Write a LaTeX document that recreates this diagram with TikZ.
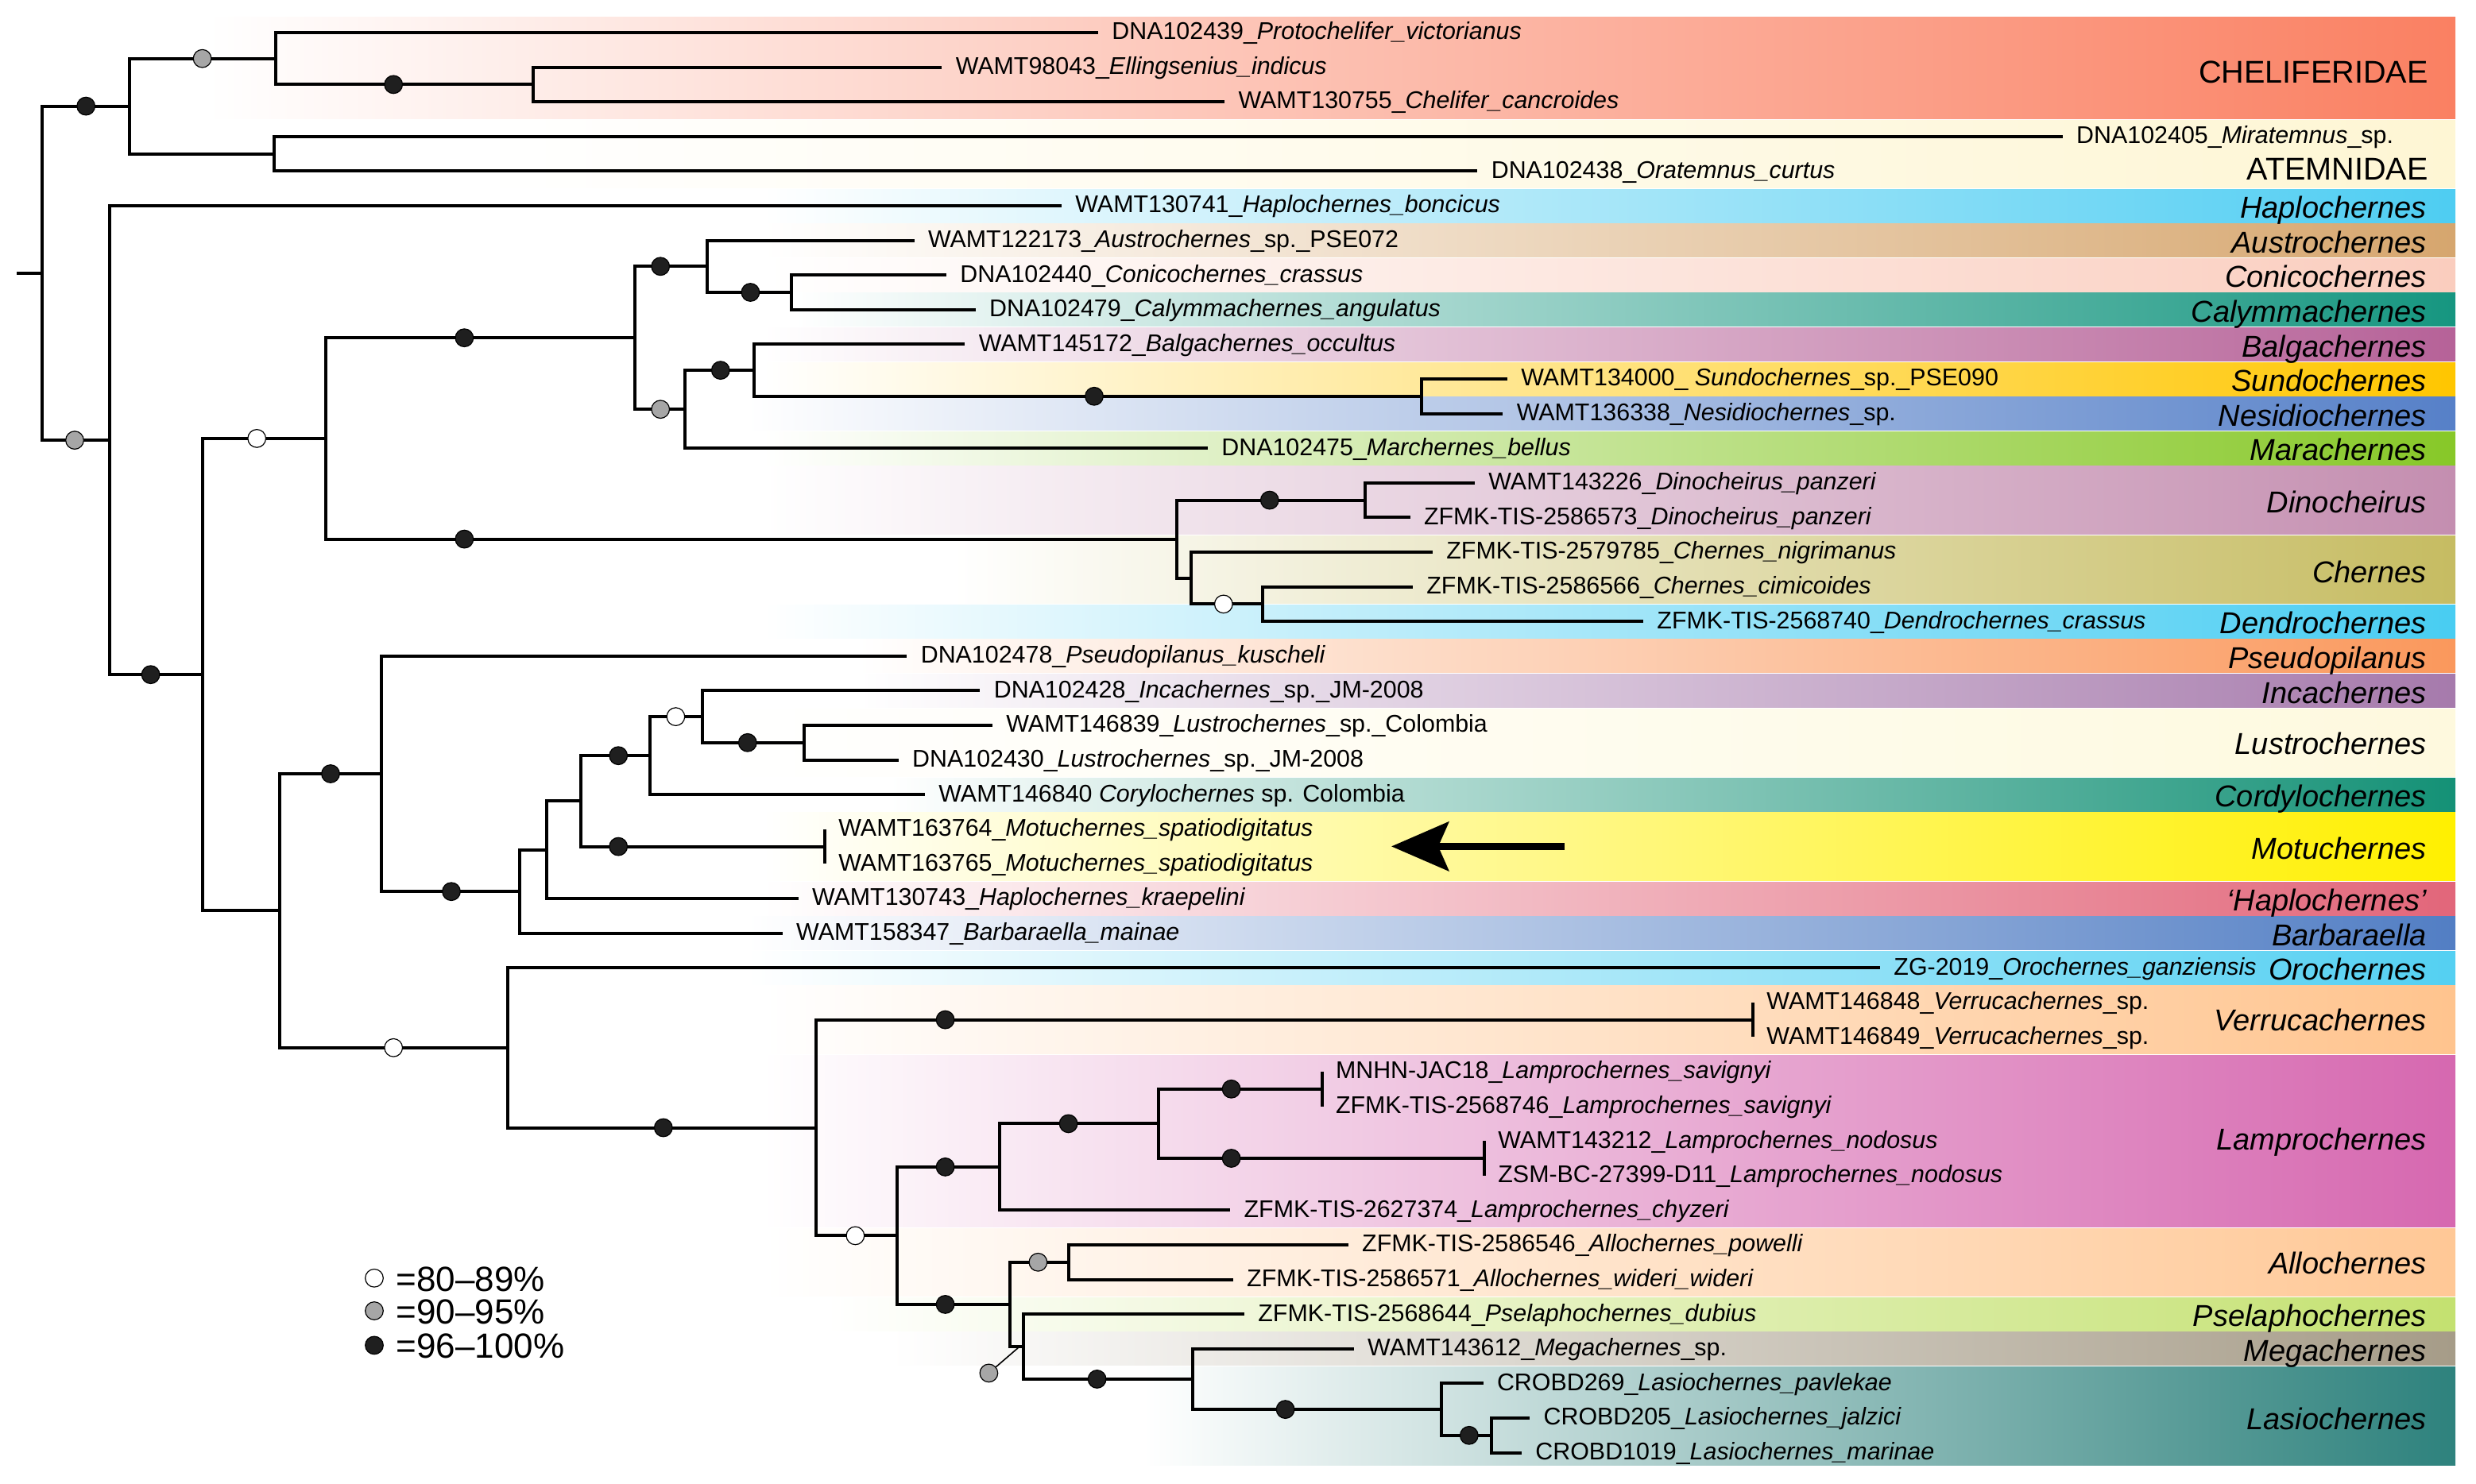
\documentclass[tikz,border=0pt]{standalone}
\usepackage{fontspec}
\setmainfont{Liberation Sans}
\usetikzlibrary{shapes.geometric}
\definecolor{cChel}{RGB}{250,128,98}
\definecolor{cAtem}{RGB}{254,246,212}
\definecolor{cHapl}{RGB}{78,205,242}
\definecolor{cAust}{RGB}{214,166,110}
\definecolor{cConi}{RGB}{250,205,190}
\definecolor{cCaly}{RGB}{22,150,128}
\definecolor{cBalg}{RGB}{182,98,152}
\definecolor{cSund}{RGB}{255,198,0}
\definecolor{cNesi}{RGB}{86,128,200}
\definecolor{cMara}{RGB}{135,200,40}
\definecolor{cDino}{RGB}{196,142,176}
\definecolor{cCher}{RGB}{198,188,98}
\definecolor{cDend}{RGB}{72,205,242}
\definecolor{cPseu}{RGB}{250,152,92}
\definecolor{cInca}{RGB}{166,122,172}
\definecolor{cLust}{RGB}{254,249,222}
\definecolor{cCord}{RGB}{20,145,118}
\definecolor{cMotu}{RGB}{255,240,0}
\definecolor{cHapb}{RGB}{226,102,122}
\definecolor{cBarb}{RGB}{82,126,196}
\definecolor{cOroc}{RGB}{84,208,242}
\definecolor{cVerr}{RGB}{255,196,142}
\definecolor{cLamp}{RGB}{214,104,176}
\definecolor{cAllo}{RGB}{255,200,150}
\definecolor{cPsel}{RGB}{196,225,112}
\definecolor{cMega}{RGB}{166,156,136}
\definecolor{cLasi}{RGB}{46,130,125}
\newcommand\gband[4]{\shade[left color=white,right color=#4] (#3,#1) rectangle (1545,#2);}
\begin{document}
\begin{tikzpicture}[x=1pt,y=-1pt,
 br/.style={line width=2pt},
 leaf/.style={anchor=west,inner xsep=8.5pt,inner ysep=0pt,text height=10.9pt,text depth=2.1pt,font=\fontsize{15.2}{18}\selectfont},
 grp/.style={anchor=east,inner sep=0pt,text height=13.6pt,text depth=0pt,font=\fontsize{19}{22}\selectfont\itshape},
 fam/.style={anchor=east,inner sep=0pt,text height=14.2pt,text depth=0pt,font=\fontsize{19.8}{22}\selectfont},
 dotbase/.style={circle,minimum size=11.3pt,inner sep=0pt,draw=black,line width=0.6pt},
 bdot/.style={dotbase,fill=black!88},
 gdot/.style={dotbase,fill=black!35},
 wdot/.style={dotbase,fill=white},
 legtxt/.style={anchor=west,inner sep=0pt,text height=15.8pt,text depth=0pt,font=\fontsize{22}{24}\selectfont},
 leader/.style={line width=0.8pt},
 shaft/.style={line width=4.9pt}]
\useasboundingbox (0,0) rectangle (1558,934);
% ---------------- bands
\gband{10.6}{74.8}{130}{cChel}
\gband{75.6}{118.2}{300}{cAtem}
\gband{119.0}{140.0}{480}{cHapl}
\gband{140.8}{161.8}{480}{cAust}
\gband{162.6}{183.6}{480}{cConi}
\gband{184.4}{205.4}{500}{cCaly}
\gband{206.2}{227.2}{480}{cBalg}
\gband{228.0}{249.0}{480}{cSund}
\gband{249.8}{270.8}{470}{cNesi}
\gband{271.6}{292.6}{480}{cMara}
\gband{293.4}{336.2}{480}{cDino}
\gband{337.0}{379.8}{600}{cCher}
\gband{380.6}{401.6}{480}{cDend}
\gband{402.4}{423.4}{540}{cPseu}
\gband{424.2}{445.2}{540}{cInca}
\gband{446.0}{488.8}{450}{cLust}
\gband{489.6}{510.6}{560}{cCord}
\gband{511.4}{554.2}{480}{cMotu}
\gband{555.0}{576.0}{480}{cHapb}
\gband{576.8}{597.8}{470}{cBarb}
\gband{598.6}{619.6}{470}{cOroc}
\gband{620.4}{663.2}{480}{cVerr}
\gband{664.0}{772.2}{480}{cLamp}
\gband{773.0}{815.8}{480}{cAllo}
\gband{816.6}{837.6}{520}{cPsel}
\gband{838.4}{859.4}{560}{cMega}
\gband{860.2}{922.0}{720}{cLasi}
% ---------------- leaf labels
\node[leaf] (t1) at (691,20.5) {DNA102439\_\textit{Protochelifer\_victorianus}};
\node[leaf] (t2) at (592.7,42.3) {WAMT98043\_\textit{Ellingsenius\_indicus}};
\node[leaf] (t3) at (770.6,64.1) {WAMT130755\_\textit{Chelifer\_cancroides}};
\node[leaf] (t4) at (1297.9,85.9) {DNA102405\_\textit{Miratemnus}\_sp.};
\node[leaf] (t5) at (929.7,107.7) {DNA102438\_\textit{Oratemnus\_curtus}};
\node[leaf] (t6) at (668,129.5) {WAMT130741\_\textit{Haplochernes\_boncicus}};
\node[leaf] (t7) at (575.3,151.3) {WAMT122173\_\textit{Austrochernes}\_sp.\_PSE072};
\node[leaf] (t8) at (595.5,173.1) {DNA102440\_\textit{Conicochernes\_crassus}};
\node[leaf] (t9) at (613.9,194.9) {DNA102479\_\textit{Calymmachernes\_angulatus}};
\node[leaf] (t10) at (607.2,216.7) {WAMT145172\_\textit{Balgachernes\_occultus}};
\node[leaf] (t11) at (948.5,238.5) {WAMT134000\_ \textit{Sundochernes}\_sp.\_PSE090};
\node[leaf] (t12) at (945.7,260.3) {WAMT136338\_\textit{Nesidiochernes}\_sp.};
\node[leaf] (t13) at (760,282.1) {DNA102475\_\textit{Marchernes\_bellus}};
\node[leaf] (t14) at (928,303.9) {WAMT143226\_\textit{Dinocheirus\_panzeri}};
\node[leaf] (t15) at (887.3,325.7) {ZFMK-TIS-2586573\_\textit{Dinocheirus\_panzeri}};
\node[leaf] (t16) at (901.5,347.5) {ZFMK-TIS-2579785\_\textit{Chernes\_nigrimanus}};
\node[leaf] (t17) at (889,369.3) {ZFMK-TIS-2586566\_\textit{Chernes\_cimicoides}};
\node[leaf] (t18) at (1034,391.1) {ZFMK-TIS-2568740\_\textit{Dendrochernes\_crassus}};
\node[leaf] (t19) at (570.7,412.9) {DNA102478\_\textit{Pseudopilanus\_kuscheli}};
\node[leaf] (t20) at (616.7,434.7) {DNA102428\_\textit{Incachernes}\_sp.\_JM-2008};
\node[leaf] (t21) at (624.5,456.5) {WAMT146839\_\textit{Lustrochernes}\_sp.\_Colombia};
\node[leaf] (t22) at (565.4,478.3) {DNA102430\_\textit{Lustrochernes}\_sp.\_JM-2008};
\node[leaf] (t23) at (582,500.1) {WAMT146840 \textit{Corylochernes} sp. Colombia};
\node[leaf] (t24) at (519,521.9) {WAMT163764\_\textit{Motuchernes\_spatiodigitatus}};
\node[leaf] (t25) at (519,543.7) {WAMT163765\_\textit{Motuchernes\_spatiodigitatus}};
\node[leaf] (t26) at (502.3,565.5) {WAMT130743\_\textit{Haplochernes\_kraepelini}};
\node[leaf] (t27) at (492.4,587.3) {WAMT158347\_\textit{Barbaraella\_mainae}};
\node[leaf] (t28) at (1183,609.1) {ZG-2019\_\textit{Orochernes\_ganziensis}};
\node[leaf] (t29) at (1103,630.9) {WAMT146848\_\textit{Verrucachernes}\_sp.};
\node[leaf] (t30) at (1103,652.7) {WAMT146849\_\textit{Verrucachernes}\_sp.};
\node[leaf] (t31) at (831.8,674.5) {MNHN-JAC18\_\textit{Lamprochernes\_savignyi}};
\node[leaf] (t32) at (831.8,696.3) {ZFMK-TIS-2568746\_\textit{Lamprochernes\_savignyi}};
\node[leaf] (t33) at (934,718.1) {WAMT143212\_\textit{Lamprochernes\_nodosus}};
\node[leaf] (t34) at (934,739.9) {ZSM-BC-27399-D11\_\textit{Lamprochernes\_nodosus}};
\node[leaf] (t35) at (774.1,761.7) {ZFMK-TIS-2627374\_\textit{Lamprochernes\_chyzeri}};
\node[leaf] (t36) at (848.4,783.5) {ZFMK-TIS-2586546\_\textit{Allochernes\_powelli}};
\node[leaf] (t37) at (775.9,805.3) {ZFMK-TIS-2586571\_\textit{Allochernes\_wideri\_wideri}};
\node[leaf] (t38) at (783,827.1) {ZFMK-TIS-2568644\_\textit{Pselaphochernes\_dubius}};
\node[leaf] (t39) at (851.9,848.9) {WAMT143612\_\textit{Megachernes}\_sp.};
\node[leaf] (t40) at (933.3,870.7) {CROBD269\_\textit{Lasiochernes\_pavlekae}};
\node[leaf] (t41) at (962.6,892.5) {CROBD205\_\textit{Lasiochernes\_jalzici}};
\node[leaf] (t42) at (957.5,914.3) {CROBD1019\_\textit{Lasiochernes\_marinae}};
% ---------------- group labels
\node[fam] (g1) at (1528,45) {CHELIFERIDAE};
\node[fam] (g2) at (1528,106) {ATEMNIDAE};
\node[grp] (g3) at (1527,130.5) {Haplochernes};
\node[grp] (g4) at (1527,152.3) {Austrochernes};
\node[grp] (g5) at (1527,174.1) {Conicochernes};
\node[grp] (g6) at (1527,195.9) {Calymmachernes};
\node[grp] (g7) at (1527,217.7) {Balgachernes};
\node[grp] (g8) at (1527,239.5) {Sundochernes};
\node[grp] (g9) at (1527,261.3) {Nesidiochernes};
\node[grp] (g10) at (1527,283.1) {Marachernes};
\node[grp] (g11) at (1527,316) {Dinocheirus};
\node[grp] (g12) at (1527,360) {Chernes};
\node[grp] (g13) at (1527,392.1) {Dendrochernes};
\node[grp] (g14) at (1527,413.9) {Pseudopilanus};
\node[grp] (g15) at (1527,435.7) {Incachernes};
\node[grp] (g16) at (1527,468) {Lustrochernes};
\node[grp] (g17) at (1527,501.1) {Cordylochernes};
\node[grp] (g18) at (1527,534) {Motuchernes};
\node[grp] (g19) at (1527,566.5) {‘Haplochernes’};
\node[grp] (g20) at (1527,588.3) {Barbaraella};
\node[grp] (g21) at (1527,610.1) {Orochernes};
\node[grp] (g22) at (1527,641.8) {Verrucachernes};
\node[grp] (g23) at (1527,717) {Lamprochernes};
\node[grp] (g24) at (1527,795) {Allochernes};
\node[grp] (g25) at (1527,828.1) {Pselaphochernes};
\node[grp] (g26) at (1527,849.9) {Megachernes};
\node[grp] (g27) at (1527,893) {Lasiochernes};
% ---------------- internal nodes
\coordinate (R0s) at (10.6,171.9);
\coordinate (R0) at (26.5,171.9);
\coordinate (A) at (81.4,66.8);
\coordinate (B) at (173.3,36.85);
\coordinate (C) at (335.3,53.2);
\coordinate (D) at (172.6,96.8);
\coordinate (E) at (69,277.05);
\coordinate (NE2) at (127.3,424.6);
\coordinate (NB) at (205.1,275.95);
\coordinate (NAC) at (399.7,212.6);
\coordinate (NAU) at (445,167.65);
\coordinate (NCC) at (498,184);
\coordinate (NMA) at (430.8,257.6);
\coordinate (NBS) at (474.7,233.05);
\coordinate (NSN) at (894.4,249.4);
\coordinate (NZ) at (740.5,339.3);
\coordinate (NDI) at (859,314.8);
\coordinate (NCH) at (749.4,363.85);
\coordinate (NCD) at (794.6,380.2);
\coordinate (F) at (176.1,573.2);
\coordinate (G) at (239.8,487);
\coordinate (H) at (327.2,561.1);
\coordinate (I) at (344.2,534.85);
\coordinate (J) at (365.4,504.2);
\coordinate (K) at (519,532.8);
\coordinate (L) at (409.2,475.6);
\coordinate (M) at (442.1,451.05);
\coordinate (N) at (505.8,467.4);
\coordinate (O) at (319.4,659.4);
\coordinate (P) at (513.5,709.75);
\coordinate (VT) at (1103,641.8);
\coordinate (Q) at (564.7,777.7);
\coordinate (R) at (629.1,734.45);
\coordinate (S) at (729.2,707.2);
\coordinate (SAV) at (831.8,685.4);
\coordinate (NOD) at (934,729);
\coordinate (T) at (635.5,820.97);
\coordinate (U) at (672.3,794.4);
\coordinate (V) at (644,847.54);
\coordinate (Vc) at (641.5,847.54);
\coordinate (W) at (750.4,867.98);
\coordinate (X) at (906.8,887.05);
\coordinate (Y) at (938.6,903.4);
% ---------------- branches
\draw[br] (R0s) -- (R0);
\draw[br] (R0) |- (A); \draw[br] (R0) |- (E);
\draw[br] (A) |- (B); \draw[br] (A) |- (D);
\draw[br] (B) |- (t1.west); \draw[br] (B) |- (C);
\draw[br] (C) |- (t2.west); \draw[br] (C) |- (t3.west);
\draw[br] (D) |- (t4.west); \draw[br] (D) |- (t5.west);
\draw[br] (E) |- (t6.west); \draw[br] (E) |- (NE2);
\draw[br] (NE2) |- (NB); \draw[br] (NE2) |- (F);
\draw[br] (NB) |- (NAC); \draw[br] (NB) |- (NZ);
\draw[br] (NAC) |- (NAU); \draw[br] (NAC) |- (NMA);
\draw[br] (NAU) |- (t7.west); \draw[br] (NAU) |- (NCC);
\draw[br] (NCC) |- (t8.west); \draw[br] (NCC) |- (t9.west);
\draw[br] (NMA) |- (NBS); \draw[br] (NMA) |- (t13.west);
\draw[br] (NBS) |- (t10.west); \draw[br] (NBS) |- (NSN);
\draw[br] (NSN) |- (t11.west); \draw[br] (NSN) |- (t12.west);
\draw[br] (NZ) |- (NDI); \draw[br] (NZ) |- (NCH);
\draw[br] (NDI) |- (t14.west); \draw[br] (NDI) |- (t15.west);
\draw[br] (NCH) |- (t16.west); \draw[br] (NCH) |- (NCD);
\draw[br] (NCD) |- (t17.west); \draw[br] (NCD) |- (t18.west);
\draw[br] (F) |- (G); \draw[br] (F) |- (O);
\draw[br] (G) |- (t19.west); \draw[br] (G) |- (H);
\draw[br] (H) |- (I); \draw[br] (H) |- (t27.west);
\draw[br] (I) |- (J); \draw[br] (I) |- (t26.west);
\draw[br] (J) |- (L); \draw[br] (J) |- (K);
\draw[br] (t24.west) -- (t25.west);
\draw[br] (L) |- (M); \draw[br] (L) |- (t23.west);
\draw[br] (M) |- (t20.west); \draw[br] (M) |- (N);
\draw[br] (N) |- (t21.west); \draw[br] (N) |- (t22.west);
\draw[br] (O) |- (t28.west); \draw[br] (O) |- (P);
\draw[br] (P) |- (VT); \draw[br] (P) |- (Q);
\draw[br] (t29.west) -- (t30.west);
\draw[br] (Q) |- (R); \draw[br] (Q) |- (T);
\draw[br] (R) |- (S); \draw[br] (R) |- (t35.west);
\draw[br] (S) |- (SAV); \draw[br] (S) |- (NOD);
\draw[br] (t31.west) -- (t32.west);
\draw[br] (t33.west) -- (t34.west);
\draw[br] (T) |- (U); \draw[br] (T) |- (V);
\draw[br] (U) |- (t36.west); \draw[br] (U) |- (t37.west);
\draw[br] (V) |- (t38.west); \draw[br] (V) |- (W);
\draw[br] (W) |- (t39.west); \draw[br] (W) |- (X);
\draw[br] (X) |- (t40.west); \draw[br] (X) |- (Y);
\draw[br] (Y) |- (t41.west); \draw[br] (Y) |- (t42.west);
% ---------------- support dots
\node[bdot] (d1) at (54.1,66.8) {};
\node[gdot] (d2) at (127.3,36.85) {};
\node[bdot] (d3) at (247.6,53.2) {};
\node[gdot] (d4) at (47,277.05) {};
\node[bdot] (d5) at (94.8,424.6) {};
\node[wdot] (d6) at (161.6,275.95) {};
\node[bdot] (d7) at (292.2,212.6) {};
\node[bdot] (d8) at (415.6,167.65) {};
\node[bdot] (d9) at (472.2,184) {};
\node[gdot] (d10) at (415.6,257.6) {};
\node[bdot] (d11) at (453.4,233.05) {};
\node[bdot] (d12) at (688.5,249.4) {};
\node[bdot] (d13) at (292.2,339.3) {};
\node[bdot] (d14) at (798.9,314.8) {};
\node[wdot] (d15) at (769.9,380.2) {};
\node[bdot] (d16) at (208,487) {};
\node[bdot] (d17) at (284,561.1) {};
\node[bdot] (d18) at (389.1,475.6) {};
\node[wdot] (d19) at (425.2,451.05) {};
\node[bdot] (d20) at (470.4,467.4) {};
\node[bdot] (d21) at (389.1,532.8) {};
\node[wdot] (d22) at (247.6,659.4) {};
\node[bdot] (d23) at (417.4,709.75) {};
\node[bdot] (d24) at (594.8,641.8) {};
\node[wdot] (d25) at (538.2,777.7) {};
\node[bdot] (d26) at (594.8,734.45) {};
\node[bdot] (d27) at (672.3,707.2) {};
\node[bdot] (d28) at (774.8,685.4) {};
\node[bdot] (d29) at (774.8,729) {};
\node[bdot] (d30) at (594.8,820.97) {};
\node[gdot] (d31) at (653.2,794.4) {};
\draw[leader] (622.2,864.2) coordinate (gVc) -- (Vc);
\node[gdot] (d32) at (gVc) {};
\node[bdot] (d33) at (690.3,867.98) {};
\node[bdot] (d34) at (808.8,887.05) {};
\node[bdot] (d35) at (924.4,903.4) {};
% ---------------- arrow
\coordinate (arS) at (984.6,532.7);
\coordinate (arM) at (903,532.7);
\coordinate (arE) at (875.6,532.7);
\draw[shaft] (arS) -- (arM);
\fill (arE) -- ++(36.4,-15.8) -- ++(-7,15.8) -- ++(7,15.8) -- cycle;
% ---------------- legend
\node[wdot] (l1) at (235.5,804.4) {};
\node[gdot] (l2) at (235.5,825) {};
\node[bdot] (l3) at (235.5,846.7) {};
\node[legtxt] (lt1) at (249.2,804.6) {=80–89\%};
\node[legtxt] (lt2) at (249.2,825.2) {=90–95\%};
\node[legtxt] (lt3) at (249.2,846.7) {=96–100\%};
\end{tikzpicture}
\end{document}
